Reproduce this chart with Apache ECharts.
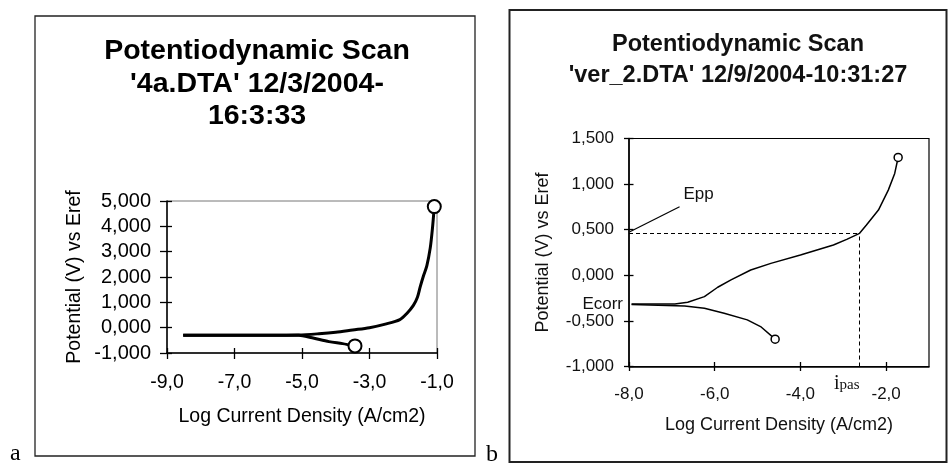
<!DOCTYPE html>
<html>
<head>
<meta charset="utf-8">
<script src="https://cdn.jsdelivr.net/npm/echarts@6/dist/echarts.min.js"></script>
<style>
  html, body { margin: 0; padding: 0; background: #fff; }
  #chart { width: 948px; height: 467px; }
</style>
</head>
<body>
<div id="chart"></div>
<script>
// ---- Scan a: '4a.DTA' ----
const aTicksX = [-9, -7, -5, -3, -1];
const aTicksY = [-1, 0, 1, 2, 3, 4, 5];
const aAnodicLogI = [-8.52, -6.0, -5.1, -4.5, -4.0, -3.5, -3.0, -2.5, -2.1, -1.9, -1.7, -1.58, -1.5, -1.4, -1.3, -1.2, -1.14, -1.08];
const aAnodicE    = [-0.30, -0.30, -0.29, -0.24, -0.18, -0.09, 0.0, 0.15, 0.32, 0.55, 0.88, 1.2, 1.6, 2.05, 2.45, 3.15, 3.85, 4.78];
const aCathodicLogI = [-8.52, -6.0, -5.1, -4.7, -4.2, -3.8, -3.43];
const aCathodicE    = [-0.30, -0.30, -0.30, -0.40, -0.55, -0.63, -0.72];

// ---- Scan b: 'ver_2.DTA' ----
const bTicksX = [-8, -6, -4, -2];
const bTicksY = [-1, -0.5, 0, 0.5, 1, 1.5];
const bAnodicLogI = [-7.94, -6.93, -6.63, -6.24, -5.93, -5.62, -5.16, -4.69, -4.0, -3.23, -2.92, -2.62, -2.46, -2.18, -1.95, -1.80, -1.72];
const bAnodicE    = [-0.314, -0.314, -0.295, -0.234, -0.131, -0.051, 0.058, 0.131, 0.222, 0.332, 0.394, 0.46, 0.551, 0.715, 0.934, 1.117, 1.292];
const bCathodicLogI = [-7.94, -6.70, -6.24, -5.78, -5.24, -4.93, -4.59];
const bCathodicE    = [-0.32, -0.336, -0.361, -0.416, -0.489, -0.562, -0.70];
const bEcorr = -0.314;   // corrosion potential
const bEpp = 0.46;       // primary passivation potential
const bIpas = -2.62;     // log of passivation current density
const bEppLeader = [[-7.98, 0.478], [-6.82, 0.751]];
const bEppLabelAt = [-6.73, 0.89];

const zip = (xs, ys) => xs.map((x, i) => [x, ys[i]]);
const last = (xs, ys) => [xs[xs.length - 1], ys[ys.length - 1]];
const fmtX = v => v.toFixed(1).replace('.', ',');
const fmtY = v => v.toFixed(3).replace('.', ',');

const SANS = 'Liberation Sans, Arial, sans-serif';
const SERIF = 'Liberation Serif, Times New Roman, serif';
const tickStyle = { color: '#000', width: 1.3 };

// Labelled axis on the plotting grid; its ticks point inward.
function mainAxis(kind, grid, ticks, fmt, st) {
  return {
    type: 'value', gridIndex: grid, min: ticks[0], max: st.max, interval: ticks[1] - ticks[0],
    position: kind === 'x' ? 'bottom' : 'left',
    name: st.name, nameLocation: 'middle', nameGap: st.nameGap,
    nameTextStyle: { fontFamily: SANS, fontSize: st.nameSize, color: st.color },
    axisLine: { show: true, onZero: false, lineStyle: { color: '#000', width: 1.5 } },
    axisTick: { show: true, inside: true, length: st.tickIn, customValues: ticks, lineStyle: tickStyle },
    axisLabel: { show: true, customValues: ticks, formatter: fmt, margin: st.labelMargin,
      fontFamily: SANS, fontSize: st.labelSize, color: st.color },
    splitLine: { show: false }
  };
}
// Twin axis on an overlaid empty grid; only its outward ticks are drawn,
// so together with the main axis each tick crosses the axis line.
function tickAxis(kind, grid, ticks, st) {
  return {
    type: 'value', gridIndex: grid, min: ticks[0], max: st.max, interval: ticks[1] - ticks[0],
    position: kind === 'x' ? 'bottom' : 'left',
    axisLine: { show: true, onZero: false, lineStyle: { color: '#000', width: 1, opacity: 0 } },
    axisTick: { show: true, inside: false, length: st.tickOut, customValues: ticks, lineStyle: tickStyle },
    axisLabel: { show: false },
    splitLine: { show: false }
  };
}

const aGrid = { left: 167, top: 201, width: 270, height: 152 };
const bGrid = { left: 629, top: 138.5, width: 300, height: 228 };

const aXStyle = { max: -1, name: 'Log Current Density (A/cm2)', nameGap: 54, nameSize: 19.5,
  labelSize: 19.5, labelMargin: 20, tickOut: 6, tickIn: 5, color: '#000' };
const bXStyle = { max: -1, name: 'Log Current Density (A/cm2)', nameGap: 50, nameSize: 18,
  labelSize: 17, labelMargin: 19, tickOut: 4.5, tickIn: 4.5, color: '#111' };
const aYStyle = { max: 5, name: 'Potential (V) vs Eref', nameGap: 82, nameSize: 19.5,
  labelSize: 20, labelMargin: 16, tickOut: 7, tickIn: 5, color: '#000' };
const bYStyle = { max: 1.5, name: 'Potential (V) vs Eref', nameGap: 77, nameSize: 18,
  labelSize: 17, labelMargin: 15, tickOut: 5, tickIn: 4.5, color: '#111' };

const xAxes = [
  mainAxis('x', 0, aTicksX, fmtX, aXStyle),
  mainAxis('x', 1, bTicksX, fmtX, bXStyle),
  tickAxis('x', 2, aTicksX, aXStyle),
  tickAxis('x', 3, bTicksX, bXStyle)
];
const yAxes = [
  mainAxis('y', 0, aTicksY, fmtY, aYStyle),
  mainAxis('y', 1, bTicksY, fmtY, bYStyle),
  tickAxis('y', 2, aTicksY, aYStyle),
  tickAxis('y', 3, bTicksY, bYStyle)
];

function branch(x, y, data, width, smooth) {
  return {
    type: 'line', xAxisIndex: x, yAxisIndex: y, data: data, symbol: 'none',
    smooth: smooth, lineStyle: { color: '#000', width: width }, silent: true, z: 3
  };
}
function ends(x, y, data, size, bw) {
  return {
    type: 'scatter', xAxisIndex: x, yAxisIndex: y, data: data, symbol: 'circle', symbolSize: size,
    itemStyle: { color: '#fff', borderColor: '#000', borderWidth: bw, opacity: 1 }, silent: true, z: 5
  };
}

const bAnodicSeries = branch(1, 1, zip(bAnodicLogI, bAnodicE), 1.5, false);
bAnodicSeries.markLine = {
  silent: true, symbol: 'none', animation: false,
  label: { show: false },
  lineStyle: { color: '#000', width: 1, type: [4, 3] },
  data: [
    [{ coord: [-8, bEpp] }, { coord: [bIpas, bEpp] }],
    [{ coord: [bIpas, -1] }, { coord: [bIpas, bEpp] }],
    [{ coord: bEppLeader[0], lineStyle: { type: 'solid', width: 1.2 } }, { coord: bEppLeader[1] }]
  ]
};
bAnodicSeries.markPoint = {
  silent: true, symbol: 'circle', symbolSize: 0, animation: false,
  data: [
    { coord: bEppLabelAt, label: { show: true, position: 'right', distance: 0, formatter: 'Epp',
      fontFamily: SANS, fontSize: 17, color: '#111' } },
    { coord: [-8, bEcorr], label: { show: true, position: 'left', distance: 6, formatter: 'Ecorr',
      fontFamily: SANS, fontSize: 17, color: '#111' } },
    { coord: [bIpas, -1], label: { show: true, position: 'left', distance: 0, offset: [0, 17],
      formatter: '{i|i}{s|pas}',
      rich: { i: { fontFamily: SERIF, fontSize: 20, color: '#111' },
              s: { fontFamily: SERIF, fontSize: 15, color: '#111', padding: [3, 0, 0, 0] } } } }
  ]
};

const option = {
  animation: false,
  backgroundColor: '#fff',
  title: [
    { text: "Potentiodynamic Scan\n'4a.DTA' 12/3/2004-\n16:3:33", left: 252, top: 30, textAlign: 'center',
      textStyle: { fontFamily: SANS, fontWeight: 'bold', fontSize: 28.5, lineHeight: 32.5, color: '#000' } },
    { text: "Potentiodynamic Scan\n'ver_2.DTA' 12/9/2004-10:31:27", left: 733, top: 24, textAlign: 'center',
      textStyle: { fontFamily: SANS, fontWeight: 'bold', fontSize: 23.5, lineHeight: 31, color: '#111' } }
  ],
  grid: [
    Object.assign({ show: true, borderColor: '#777', borderWidth: 1, containLabel: false }, aGrid),
    Object.assign({ show: true, borderColor: '#000', borderWidth: 1.2, containLabel: false }, bGrid),
    Object.assign({ show: false, containLabel: false }, aGrid),
    Object.assign({ show: false, containLabel: false }, bGrid)
  ],
  xAxis: xAxes,
  yAxis: yAxes,
  series: [
    branch(0, 0, zip(aCathodicLogI, aCathodicE), 3, 0.3),
    branch(0, 0, zip(aAnodicLogI, aAnodicE), 3, 0.3),
    ends(0, 0, [last(aAnodicLogI, aAnodicE), last(aCathodicLogI, aCathodicE)], 13, 2),
    branch(1, 1, zip(bCathodicLogI, bCathodicE), 1.5, false),
    bAnodicSeries,
    ends(1, 1, [last(bAnodicLogI, bAnodicE), last(bCathodicLogI, bCathodicE)], 8, 1.5)
  ],
  graphic: [
    { type: 'rect', shape: { x: 35, y: 16, width: 440, height: 440 }, silent: true,
      style: { fill: null, stroke: '#222', lineWidth: 1.3 } },
    { type: 'rect', shape: { x: 509.5, y: 10, width: 437, height: 452 }, silent: true,
      style: { fill: null, stroke: '#222', lineWidth: 2 } },
    { type: 'text', left: 10, top: 442, silent: true,
      style: { text: 'a', fontFamily: SERIF, fontSize: 24, fill: '#000' } },
    { type: 'text', left: 486, top: 443, silent: true,
      style: { text: 'b', fontFamily: SERIF, fontSize: 24, fill: '#000' } }
  ]
};

const chart = echarts.init(document.getElementById('chart'), null, { renderer: 'canvas' });
chart.setOption(option);
</script>
</body>
</html>
